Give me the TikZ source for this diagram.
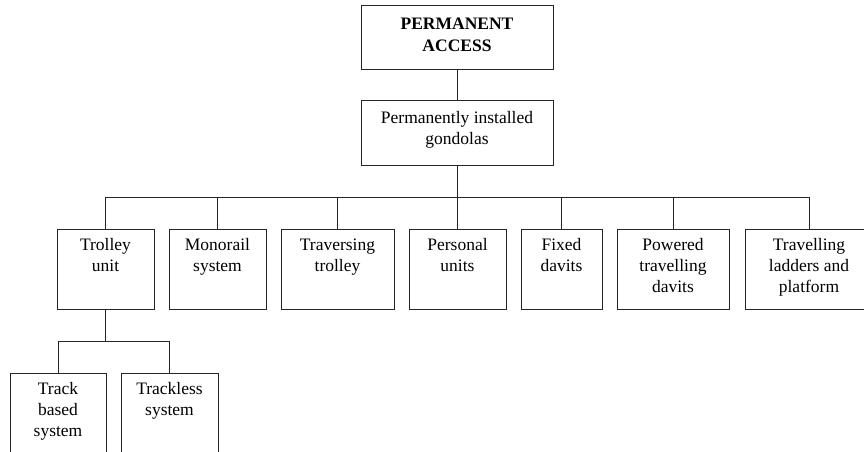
\documentclass[tikz,border=0pt]{standalone}
\usepackage{fontspec}
\setmainfont{Liberation Serif}
\begin{document}
\begin{tikzpicture}[x=1pt,y=-1pt,
  box/.style={draw=black!85,line width=0.8pt,rectangle,inner sep=0pt},
  txt/.style={align=center,inner sep=0pt,anchor=north,font=\fontsize{17.5}{20.7}\selectfont},
  ctr/.style={align=center,inner sep=0pt,font=\fontsize{17.5}{21.5}\selectfont},
  con/.style={draw=black!85,line width=0.8pt}]
\useasboundingbox (0,0) rectangle (864,452);
\clip (0,0) rectangle (864,452);
% top boxes
\node[box,minimum width=192,minimum height=64] (top) at (457,37) {};
\node[ctr] (topt) at (457,35) {\textbf{PERMANENT}\\\textbf{ACCESS}};
\node[box,minimum width=192,minimum height=65] (gond) at (457,132.5) {};
\node[ctr] (gondt) at (457,130) {Permanently installed\\gondolas};
% row
\node[box,minimum width=97,minimum height=80] (tu) at (105.5,269) {};
\node[box,minimum width=97,minimum height=80] (mono) at (217.5,269) {};
\node[box,minimum width=113,minimum height=80] (trav) at (337.5,269) {};
\node[box,minimum width=97,minimum height=80] (pers) at (457.5,269) {};
\node[box,minimum width=81,minimum height=80] (fixed) at (561.5,269) {};
\node[box,minimum width=112,minimum height=80] (pow) at (673,269) {};
\node[box,minimum width=128,minimum height=80] (tlp) at (809,269) {};
\node[txt] (tut) at ([yshift=-10]tu.north) {Trolley\\unit};
\node[txt] (monot) at ([yshift=-10]mono.north) {Monorail\\system};
\node[txt] (travt) at ([yshift=-10]trav.north) {Traversing\\trolley};
\node[txt] (perst) at ([yshift=-10]pers.north) {Personal\\units};
\node[txt] (fixedt) at ([yshift=-10]fixed.north) {Fixed\\davits};
\node[txt] (powt) at ([yshift=-10]pow.north) {Powered\\travelling\\davits};
\node[txt] (tlpt) at ([yshift=-10]tlp.north) {Travelling\\ladders and\\platform};
% bottom
\node[box,minimum width=96,minimum height=100] (tb) at (58,423) {};
\node[box,minimum width=97,minimum height=100] (tl) at (169.5,423) {};
\node[txt] (tbt) at ([yshift=-10]tb.north) {Track\\based\\system};
\node[txt] (tlt) at ([yshift=-10]tl.north) {Trackless\\system};
% connectors
\coordinate (bus) at (457,197);
\coordinate (bus2) at (105.5,341);
\draw[con] (top.south) -- (gond.north);
\draw[con] (gond.south) -- (bus);
\draw[con] (tu.north) |- (tlp.north |- bus) -- (tlp.north);
\foreach \n in {mono,trav,pers,fixed,pow}
  \draw[con] (\n.north) -- (\n.north |- bus);
\draw[con] (tu.south) -- (bus2);
\draw[con] (tb.north) |- (tl.north |- bus2) -- (tl.north);
\end{tikzpicture}
\end{document}
